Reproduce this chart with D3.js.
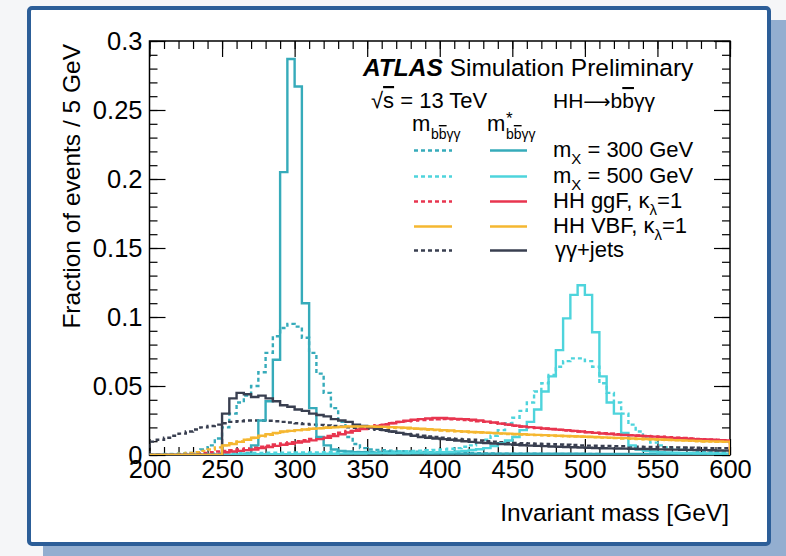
<!DOCTYPE html>
<html>
<head>
<meta charset="utf-8">
<script src="https://cdn.jsdelivr.net/npm/d3@7"></script>
<style>
  html, body { margin: 0; padding: 0; background: #f5f6f8; }
  svg { display: block; font-family: "Liberation Sans", Arial, Helvetica, sans-serif; }
</style>
</head>
<body>
<svg id="chart" width="786" height="556"></svg>
<script>
// ---- binning and axis ticks ----
const binLow = 200, binWidth = 5;            // 80 bins of 5 GeV from 200 to 600 GeV
const xTicks = [200, 250, 300, 350, 400, 450, 500, 550, 600];
const yTicks = [0, 0.05, 0.1, 0.15, 0.2, 0.25, 0.3];

// ---- histogram contents (fraction of events per 5 GeV bin) ----
// X(300 GeV), m*_bbyy
const mx300Star = [
  0, 0, 0, 0, 0, 0, 0, 0, 0, 0,
  0, 0, 0, 0.001, 0.007, 0.025, 0.039, 0.069, 0.205, 0.287,
  0.267, 0.110, 0.034, 0.013, 0.007, 0.004, 0.003, 0.0025, 0.002, 0.002,
  0.0018, 0.0017, 0.0016, 0.0015, 0.0014, 0.0013, 0.0012, 0.0012, 0.0011, 0.0011,
  0.001, 0.001, 0.001, 0.001, 0.001, 0.001, 0.001, 0.001, 0.001, 0.001,
  0.0009, 0.0009, 0.0009, 0.0009, 0.0009, 0.0009, 0.0009, 0.0009, 0.0009, 0.0009,
  0.0008, 0.0008, 0.0008, 0.0008, 0.0008, 0.0008, 0.0008, 0.0008, 0.0008, 0.0008,
  0.0007, 0.0007, 0.0007, 0.0007, 0.0007, 0.0007, 0.0007, 0.0007, 0.0007, 0.0007
];
// X(300 GeV), m_bbyy
const mx300 = [
  0, 0, 0, 0.0005, 0.001, 0.0015, 0.002, 0.004, 0.007, 0.012,
  0.020, 0.030, 0.038, 0.043, 0.050, 0.060, 0.074, 0.086, 0.092, 0.095,
  0.093, 0.085, 0.074, 0.059, 0.045, 0.034, 0.024, 0.013, 0.008, 0.005,
  0.004, 0.0037, 0.0034, 0.0031, 0.0028, 0.0026, 0.0024, 0.0022, 0.002, 0.0019,
  0.0018, 0.0017, 0.0016, 0.0015, 0.0014, 0.0013, 0.0012, 0.0011, 0.001, 0.001,
  0.0009, 0.0009, 0.0009, 0.0009, 0.0008, 0.0008, 0.0008, 0.0008, 0.0007, 0.0007,
  0.0007, 0.0007, 0.0006, 0.0006, 0.0006, 0.0006, 0.0006, 0.0006, 0.0005, 0.0005,
  0.0005, 0.0005, 0.0005, 0.0005, 0.0005, 0.0005, 0.0005, 0.0005, 0.0005, 0.0005
];
// X(500 GeV), m*_bbyy
const mx500Star = [
  0, 0, 0, 0, 0, 0, 0, 0, 0, 0,
  0.0003, 0.0003, 0.0004, 0.0004, 0.0005, 0.0005, 0.0005, 0.0006, 0.0006, 0.0006,
  0.0007, 0.0007, 0.0008, 0.0008, 0.0009, 0.0009, 0.001, 0.001, 0.0011, 0.0011,
  0.0012, 0.0012, 0.0013, 0.0013, 0.0014, 0.0015, 0.0016, 0.0017, 0.0018, 0.0019,
  0.002, 0.0022, 0.0026, 0.003, 0.0036, 0.0042, 0.005, 0.0065, 0.0085, 0.0105,
  0.013, 0.018, 0.024, 0.033, 0.046, 0.057, 0.076, 0.099, 0.116, 0.123,
  0.116, 0.089, 0.057, 0.038, 0.030, 0.016, 0.007, 0.004, 0.003, 0.0025,
  0.002, 0.0018, 0.0016, 0.0015, 0.0014, 0.0013, 0.0012, 0.0011, 0.001, 0.001
];
// X(500 GeV), m_bbyy
const mx500 = [
  0.0005, 0.0006, 0.0007, 0.0008, 0.0009, 0.001, 0.001, 0.0011, 0.0012, 0.0012,
  0.0013, 0.0013, 0.0014, 0.0014, 0.0015, 0.0015, 0.0016, 0.0016, 0.0017, 0.0017,
  0.0018, 0.0018, 0.0019, 0.0019, 0.002, 0.002, 0.0021, 0.0021, 0.0022, 0.0022,
  0.0023, 0.0024, 0.0025, 0.0026, 0.0027, 0.0028, 0.003, 0.0032, 0.0034, 0.0037,
  0.004, 0.0045, 0.005, 0.006, 0.007, 0.009, 0.011, 0.014, 0.018, 0.023,
  0.027, 0.032, 0.038, 0.046, 0.052, 0.058, 0.064, 0.068, 0.070, 0.070,
  0.068, 0.064, 0.052, 0.045, 0.038, 0.030, 0.022, 0.017, 0.012, 0.009,
  0.007, 0.0055, 0.0045, 0.004, 0.0035, 0.003, 0.0027, 0.0024, 0.0022, 0.002
];
// HH ggF, m*_bbyy
const ggfStar = [
  0, 0, 0, 0, 0, 0, 0, 0, 0, 0,
  0.002, 0.0025, 0.003, 0.0035, 0.004, 0.005, 0.0058, 0.0066, 0.0074, 0.0082,
  0.009, 0.0098, 0.0106, 0.0115, 0.0125, 0.0138, 0.015, 0.0163, 0.0175, 0.0188,
  0.020, 0.021, 0.022, 0.023, 0.024, 0.0248, 0.0255, 0.026, 0.0265, 0.0268,
  0.0268, 0.0265, 0.0262, 0.026, 0.0255, 0.025, 0.0242, 0.0235, 0.0227, 0.022,
  0.0213, 0.0207, 0.0202, 0.0197, 0.0192, 0.0188, 0.0184, 0.018, 0.0175, 0.017,
  0.0165, 0.016, 0.0156, 0.0152, 0.0148, 0.0145, 0.0142, 0.0139, 0.0136, 0.0133,
  0.013, 0.0127, 0.0124, 0.0121, 0.0118, 0.0115, 0.0112, 0.011, 0.0108, 0.0106
];
// HH ggF, m_bbyy
const ggf = [
  0, 0, 0, 0, 0.0005, 0.0008, 0.001, 0.0015, 0.002, 0.0025,
  0.003, 0.0035, 0.004, 0.0047, 0.0054, 0.0061, 0.0068, 0.0076, 0.0084, 0.0092,
  0.010, 0.0108, 0.0117, 0.0127, 0.0138, 0.015, 0.0162, 0.0174, 0.0186, 0.0197,
  0.0207, 0.0216, 0.0224, 0.0232, 0.0239, 0.0245, 0.025, 0.0254, 0.0257, 0.0259,
  0.026, 0.0258, 0.0256, 0.0253, 0.025, 0.0245, 0.024, 0.0233, 0.0226, 0.0219,
  0.0212, 0.0206, 0.020, 0.0195, 0.019, 0.0186, 0.0182, 0.0178, 0.0174, 0.017,
  0.0166, 0.0162, 0.0158, 0.0154, 0.015, 0.0147, 0.0144, 0.0141, 0.0138, 0.0135,
  0.0132, 0.0129, 0.0126, 0.0123, 0.012, 0.0117, 0.0114, 0.0112, 0.011, 0.0108
];
// HH VBF, m*_bbyy
const vbfStar = [
  0, 0, 0, 0, 0, 0, 0, 0, 0, 0,
  0.007, 0.008, 0.0095, 0.011, 0.0125, 0.014, 0.015, 0.016, 0.017, 0.0175,
  0.018, 0.0185, 0.019, 0.0193, 0.0197, 0.020, 0.0203, 0.0206, 0.0207, 0.0207,
  0.0206, 0.0205, 0.0204, 0.0202, 0.020, 0.0197, 0.0193, 0.019, 0.0187, 0.0184,
  0.018, 0.0177, 0.0173, 0.017, 0.0167, 0.0165, 0.0162, 0.016, 0.0157, 0.0155,
  0.0152, 0.015, 0.0148, 0.0146, 0.0144, 0.0142, 0.014, 0.0138, 0.0136, 0.0134,
  0.0132, 0.013, 0.0128, 0.0126, 0.0124, 0.0122, 0.012, 0.0118, 0.0116, 0.0114,
  0.0112, 0.011, 0.0108, 0.0106, 0.0104, 0.0102, 0.010, 0.0099, 0.0098, 0.0097
];
// HH VBF, m_bbyy
const vbf = [
  0, 0, 0, 0.0005, 0.001, 0.0015, 0.002, 0.003, 0.004, 0.0055,
  0.007, 0.0085, 0.0098, 0.011, 0.0123, 0.0135, 0.0147, 0.0158, 0.0167, 0.0174,
  0.018, 0.0186, 0.0191, 0.0195, 0.0199, 0.0202, 0.0204, 0.0205, 0.0205, 0.0204,
  0.0203, 0.0201, 0.0199, 0.0197, 0.0195, 0.0192, 0.0189, 0.0186, 0.0183, 0.018,
  0.0177, 0.0174, 0.0171, 0.0168, 0.0165, 0.0162, 0.016, 0.0157, 0.0155, 0.0152,
  0.015, 0.0148, 0.0146, 0.0144, 0.0142, 0.014, 0.0138, 0.0136, 0.0134, 0.0132,
  0.013, 0.0128, 0.0126, 0.0124, 0.0122, 0.012, 0.0118, 0.0116, 0.0114, 0.0112,
  0.011, 0.0108, 0.0106, 0.0104, 0.0102, 0.010, 0.0098, 0.0097, 0.0096, 0.0095
];
// yy+jets, m*_bbyy
const yyjetsStar = [
  0, 0, 0, 0, 0, 0, 0, 0, 0, 0,
  0.030, 0.041, 0.045, 0.044, 0.042, 0.043, 0.041, 0.039, 0.036, 0.035,
  0.033, 0.032, 0.030, 0.029, 0.028, 0.026, 0.025, 0.024, 0.022, 0.021,
  0.020, 0.019, 0.018, 0.017, 0.016, 0.015, 0.014, 0.013, 0.0125, 0.012,
  0.0115, 0.011, 0.0105, 0.010, 0.0095, 0.009, 0.0087, 0.0083, 0.008, 0.0077,
  0.0074, 0.0071, 0.0068, 0.0066, 0.0064, 0.0062, 0.006, 0.0058, 0.0056, 0.0054,
  0.0052, 0.005, 0.0049, 0.0048, 0.0047, 0.0046, 0.0045, 0.0044, 0.0043, 0.0042,
  0.0041, 0.004, 0.0039, 0.0038, 0.0037, 0.0036, 0.0035, 0.0034, 0.0033, 0.0032
];
// yy+jets, m_bbyy
const yyjets = [
  0.0097, 0.011, 0.0125, 0.014, 0.0155, 0.017, 0.0185, 0.020, 0.021, 0.022,
  0.023, 0.024, 0.0245, 0.025, 0.025, 0.025, 0.0248, 0.0245, 0.024, 0.0235,
  0.023, 0.0225, 0.022, 0.0218, 0.0215, 0.021, 0.0205, 0.020, 0.0198, 0.0195,
  0.019, 0.0182, 0.0175, 0.0168, 0.016, 0.0153, 0.0147, 0.014, 0.0135, 0.013,
  0.0125, 0.012, 0.0117, 0.0113, 0.011, 0.0105, 0.010, 0.0097, 0.0093, 0.009,
  0.0088, 0.0086, 0.0084, 0.0082, 0.008, 0.0078, 0.0076, 0.0074, 0.0072, 0.007,
  0.0068, 0.0067, 0.0066, 0.0065, 0.0064, 0.0063, 0.0062, 0.006, 0.0059, 0.0058,
  0.0057, 0.0056, 0.0055, 0.0054, 0.0053, 0.0052, 0.0051, 0.005, 0.005, 0.0049
];

// ---- styling ----
const colTeal = "#36abba", colCyan = "#4ed4dc", colRed = "#e8354f",
      colOrange = "#f5b731", colDark = "#393f50";
const dashPattern = "4,3";

// drawing order: later entries on top
const series = [
  { values: mx300,      color: colTeal,   dashed: true  },
  { values: mx500,      color: colCyan,   dashed: true  },
  { values: ggf,        color: colRed,    dashed: true  },
  { values: vbf,        color: colOrange, dashed: true  },
  { values: yyjets,     color: colDark,   dashed: true  },
  { values: mx300Star,  color: colTeal,   dashed: false },
  { values: mx500Star,  color: colCyan,   dashed: false },
  { values: ggfStar,    color: colRed,    dashed: false },
  { values: yyjetsStar, color: colDark,   dashed: false },
  { values: vbfStar,    color: colOrange, dashed: false }
];

const svg = d3.select("#chart");
const font = '"Liberation Sans", Arial, Helvetica, sans-serif';

// panel with drop shadow
svg.append("rect").attr("x", 43).attr("y", 20).attr("width", 743).attr("height", 536)
  .attr("fill", "#93aed0");
svg.append("rect").attr("x", 29).attr("y", 8).attr("width", 740).attr("height", 536)
  .attr("rx", 3).attr("fill", "#ffffff").attr("stroke", "#2c5e98").attr("stroke-width", 4);

const plot = { left: 149.5, right: 730, top: 41, bottom: 455 };
const x = d3.scaleLinear().domain([200, 600]).range([plot.left, plot.right]);
const y = d3.scaleLinear().domain([0, 0.3]).range([plot.bottom, plot.top]);

const majorLen = 16, minorLen = 8;
const tickFont = 25.5;
const xMinor = d3.range(200, 601, 10);
const yMinor = d3.range(0, 0.3001, 0.01);

function styleAxis(g) {
  g.select(".domain").remove();
  g.selectAll(".tick line").attr("stroke", "#000").attr("stroke-width", 1.2);
  g.attr("font-size", tickFont).attr("font-family", font);
  g.selectAll(".tick text").attr("fill", "#000");
}

// bottom axis
svg.append("g").attr("transform", `translate(0,${plot.bottom})`)
  .call(d3.axisBottom(x).tickValues(xMinor).tickSize(-minorLen).tickFormat(""))
  .call(styleAxis);
svg.append("g").attr("transform", `translate(0,${plot.bottom})`)
  .call(d3.axisBottom(x).tickValues(xTicks).tickSize(-majorLen).tickPadding(5)
    .tickFormat(d3.format("d")))
  .call(styleAxis);

// top axis (ticks only)
svg.append("g").attr("transform", `translate(0,${plot.top})`)
  .call(d3.axisTop(x).tickValues(xMinor).tickSize(-minorLen).tickFormat(""))
  .call(styleAxis);
svg.append("g").attr("transform", `translate(0,${plot.top})`)
  .call(d3.axisTop(x).tickValues(xTicks).tickSize(-majorLen).tickFormat(""))
  .call(styleAxis);

// left axis
svg.append("g").attr("transform", `translate(${plot.left},0)`)
  .call(d3.axisLeft(y).tickValues(yMinor).tickSize(-minorLen).tickFormat(""))
  .call(styleAxis);
svg.append("g").attr("transform", `translate(${plot.left},0)`)
  .call(d3.axisLeft(y).tickValues(yTicks).tickSize(-majorLen).tickPadding(7)
    .tickFormat(d3.format("~g")))
  .call(styleAxis);

// right axis (ticks only)
svg.append("g").attr("transform", `translate(${plot.right},0)`)
  .call(d3.axisRight(y).tickValues(yMinor).tickSize(-minorLen).tickFormat(""))
  .call(styleAxis);
svg.append("g").attr("transform", `translate(${plot.right},0)`)
  .call(d3.axisRight(y).tickValues(yTicks).tickSize(-majorLen).tickFormat(""))
  .call(styleAxis);

// frame
svg.append("rect").attr("x", plot.left).attr("y", plot.top)
  .attr("width", plot.right - plot.left).attr("height", plot.bottom - plot.top)
  .attr("fill", "none").attr("stroke", "#000").attr("stroke-width", 1.5);

// histograms
svg.append("clipPath").attr("id", "plotClip").append("rect")
  .attr("x", plot.left).attr("y", plot.top - 2)
  .attr("width", plot.right - plot.left).attr("height", plot.bottom - plot.top + 2);

const line = d3.line().x(d => x(d[0])).y(d => y(d[1]));
function stepPoints(values) {
  const pts = [[binLow, 0]];
  values.forEach((v, i) => {
    const lo = binLow + i * binWidth;
    pts.push([lo, v], [lo + binWidth, v]);
  });
  pts.push([binLow + values.length * binWidth, 0]);
  return pts;
}
const gh = svg.append("g").attr("clip-path", "url(#plotClip)");
series.forEach(s => {
  gh.append("path")
    .attr("d", line(stepPoints(s.values)))
    .attr("fill", "none")
    .attr("stroke", s.color)
    .attr("stroke-width", 2.4)
    .attr("stroke-linejoin", "miter")
    .attr("stroke-dasharray", s.dashed ? dashPattern : null);
});

// rich text helper: parts with optional sub/sup/overline/bold-italic/font
function richText(parent, px, py, parts, size, anchor) {
  const t = parent.append("text").attr("x", px).attr("y", py)
    .attr("font-size", size).attr("font-family", font).attr("fill", "#000")
    .attr("text-anchor", anchor || "start");
  let shift = 0;
  parts.forEach(p => {
    let target = 0, fs = p.size || size;
    if (p.sub) { target = size * 0.3; fs = size * 0.68; }
    if (p.sup) { target = -size * 0.42; fs = size * 0.68; }
    const ts = t.append("tspan").text(p.t).attr("font-size", fs);
    if (target - shift !== 0) ts.attr("dy", target - shift);
    shift = target;
    if (p.over) ts.style("text-decoration", "overline");
    if (p.bi) ts.attr("font-weight", "bold").attr("font-style", "italic");
    if (p.family) ts.attr("font-family", p.family);
  });
  return t;
}

// axis titles
svg.append("text").attr("transform", "translate(80,44) rotate(-90)")
  .attr("text-anchor", "end").attr("font-size", 24.5).attr("font-family", font)
  .text("Fraction of events / 5 GeV");
svg.append("text").attr("x", 729).attr("y", 521).attr("text-anchor", "end")
  .attr("font-size", 24.5).attr("font-family", font).text("Invariant mass [GeV]");

// labels
richText(svg, 363, 76, [{ t: "ATLAS", bi: true }, { t: " Simulation Preliminary" }], 24.5);
richText(svg, 371, 108, [{ t: "√" }, { t: "s", over: true }, { t: " = 13 TeV" }], 22);
richText(svg, 553, 108, [
  { t: "HH" },
  { t: "⟶", family: '"DejaVu Sans", sans-serif', size: 19 },
  { t: "b" }, { t: "b", over: true }, { t: "γγ" }
], 21);

// legend column headers
richText(svg, 412, 131, [{ t: "m" }], 22);
richText(svg, 431, 139, [{ t: "b" }, { t: "b", over: true }, { t: "γγ" }], 14);
richText(svg, 487, 131, [{ t: "m" }], 22);
richText(svg, 506, 124, [{ t: "*" }], 17);
richText(svg, 506, 139, [{ t: "b" }, { t: "b", over: true }, { t: "γγ" }], 14);

const legendRows = [
  { label: [{ t: "m" }, { t: "X", sub: true }, { t: " = 300 GeV" }], c1: series[0], c2: series[5] },
  { label: [{ t: "m" }, { t: "X", sub: true }, { t: " = 500 GeV" }], c1: series[1], c2: series[6] },
  { label: [{ t: "HH ggF, κ" }, { t: "λ", sub: true }, { t: "=1" }], c1: series[2], c2: series[7] },
  { label: [{ t: "HH VBF, κ" }, { t: "λ", sub: true }, { t: "=1" }], c1: { color: colOrange, dashed: false }, c2: series[9] },
  { label: [{ t: "γγ+jets" }], c1: series[4], c2: series[8] }
];
const rowBase = [157, 183, 208, 233, 257];
legendRows.forEach((r, i) => {
  const ly = rowBase[i] - 6.5;
  [[r.c1, 414, 452], [r.c2, 490, 527]].forEach(([s, x0, x1]) => {
    svg.append("line").attr("x1", x0).attr("x2", x1).attr("y1", ly).attr("y2", ly)
      .attr("stroke", s.color).attr("stroke-width", 2.4)
      .attr("stroke-dasharray", s.dashed ? dashPattern : null);
  });
  richText(svg, i === 4 ? 555 : 553, rowBase[i], r.label, 22);
});
</script>
</body>
</html>
